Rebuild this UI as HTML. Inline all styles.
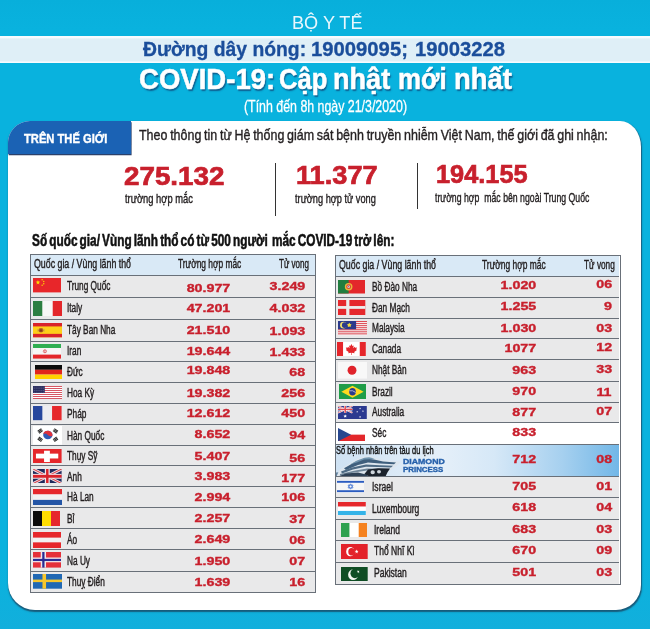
<!DOCTYPE html>
<html lang="vi"><head><meta charset="utf-8"><title>COVID-19: Cập nhật mới nhất</title>
<style>
html,body{margin:0;padding:0;}
body{width:650px;height:629px;overflow:hidden;background:#09b2de;font-family:"Liberation Sans", sans-serif;position:relative;}
.t{position:absolute;white-space:nowrap;line-height:1;transform-origin:0 0;font-family:"Liberation Sans", sans-serif;}
.r{transform-origin:100% 0;}
.b{font-weight:bold;}
.a{position:absolute;}
svg{position:absolute;display:block;overflow:hidden;}
</style></head><body>
<div class="a" style="left:0;top:0;width:650px;height:629px;background:linear-gradient(180deg,#08afdb 0,#09b2de 30px,#09b2de 560px,#12afdc 629px);"></div>
<div class="a" style="left:0;top:35.6px;width:650px;height:27.8px;background:linear-gradient(180deg,#f7fbfe 0,#f7fbfe 1.6px,#dfeff7 3px,#dfeff7 24.6px,#f7fbfe 26.2px,#f7fbfe 27.8px);"></div>
<div class="a" style="left:8.2px;top:121.3px;width:632.6px;height:488.3px;background:#fff;border-radius:22px 21px 25px 27px / 22px 26px 25px 27px;box-shadow:0.8px 1.6px 1.3px rgba(25,75,105,.85);"></div>
<div class="a" style="left:8.2px;top:121.3px;width:122.4px;height:32.6px;background:#1b62b4;border-radius:22px 0 0 0;box-shadow:0.6px 1.2px 0.6px rgba(6,30,80,.85);"></div>
<div class="a" style="left:274.7px;top:163px;width:1.2px;height:52.6px;background:#333;"></div>
<div class="a" style="left:416.8px;top:163px;width:1.2px;height:46.4px;background:#333;"></div>
<div class="a" style="left:30.3px;top:254.5px;width:284.4px;height:337.1px;background:#e9e9ea;"></div>
<div class="a" style="left:30.3px;top:254.5px;width:284.4px;height:20.9px;background:#d9e9f6;"></div>
<div class="a" style="left:30.3px;top:274.9px;width:284.4px;height:1.1px;background:#697079;"></div>
<div class="a" style="left:30.3px;top:296.6px;width:284.4px;height:1.1px;background:#697079;"></div>
<div class="a" style="left:30.3px;top:318.9px;width:284.4px;height:1.1px;background:#697079;"></div>
<div class="a" style="left:30.3px;top:340.6px;width:284.4px;height:1.1px;background:#697079;"></div>
<div class="a" style="left:30.3px;top:361.3px;width:284.4px;height:1.1px;background:#697079;"></div>
<div class="a" style="left:30.3px;top:381.8px;width:284.4px;height:1.1px;background:#697079;"></div>
<div class="a" style="left:30.3px;top:403.0px;width:284.4px;height:1.1px;background:#697079;"></div>
<div class="a" style="left:30.3px;top:424.0px;width:284.4px;height:1.1px;background:#697079;"></div>
<div class="a" style="left:30.3px;top:445.0px;width:284.4px;height:1.1px;background:#697079;"></div>
<div class="a" style="left:30.3px;top:465.3px;width:284.4px;height:1.1px;background:#697079;"></div>
<div class="a" style="left:30.3px;top:485.9px;width:284.4px;height:1.1px;background:#697079;"></div>
<div class="a" style="left:30.3px;top:506.8px;width:284.4px;height:1.1px;background:#697079;"></div>
<div class="a" style="left:30.3px;top:528.3px;width:284.4px;height:1.1px;background:#697079;"></div>
<div class="a" style="left:30.3px;top:549.1px;width:284.4px;height:1.1px;background:#697079;"></div>
<div class="a" style="left:30.3px;top:570.8px;width:284.4px;height:1.1px;background:#697079;"></div>
<div class="a" style="left:29.7px;top:253.9px;width:284.4px;height:337.1px;border:1.2px solid #697079;"></div>
<div class="a" style="left:335.5px;top:255.1px;width:283.7px;height:328.7px;background:#e9e9ea;"></div>
<div class="a" style="left:335.5px;top:255.1px;width:283.7px;height:21.0px;background:#d9e9f6;"></div>
<div class="a" style="left:335.5px;top:422.6px;width:283.7px;height:21.4px;background:#fff;"></div>
<div class="a" style="left:335.5px;top:444.0px;width:283.7px;height:32.9px;background:linear-gradient(90deg,#cfe2f3 0,#e4eff9 38%,#d6e8f7 56%,#a6d0ef 80%,#72b7e7 100%);"></div>
<svg style="left:336px;top:455px;" width="69" height="22" viewBox="0 0 69 22"><defs><linearGradient id="sea" x1="0" y1="0" x2="1" y2="0"><stop offset="0" stop-color="#5f7f9c"/><stop offset="1" stop-color="#9db9d3"/></linearGradient></defs><path d="M0 17.5L20 16l30 2.5V22H0z" fill="url(#sea)"/><path d="M0.6 21.2L3.4 14.7 12.6 9.2 20 4.5 27.4 1.8 32.9 0.8 39.4 2.7 47.7 5.1 65.2 6.4 60.6 11 51.4 17.5 49.5 21.4 20 21.6z" fill="#dde6ee"/><path d="M8 13.2L20 6.6 29 3.6 38 4.4 47 6.6 60 7.6 58 9.2 44 8.6 32 7.6 22 10 10 15z" fill="#3f5f7d"/><path d="M14 9.6L21 5.4 28.5 2.8 33 2.2 38.6 3.6 34 4.2 28 4.6 21.5 7.2z" fill="#6f93ad"/><path d="M5 16.6L16 12.6 30 9.6 44 10.2 57 10.8 55 12.4 42 12 30 11.8 17 14.6 6 18.4z" fill="#4d6a84"/><path d="M4 19L18 15.8 31 13.6 44 13.8 53.6 14 52 15.6 42 15.4 31 15.4 18 17.6 4 20.6z" fill="#6f8598"/><path d="M32 14.6L42 13.2 54 13.6 51.4 17.5 49.5 21.4 34 21.6 28 19.4z" fill="#1b222c"/><path d="M2 21.6L10 18.6 22 17.4 30 19.6 34 21.8z" fill="#2e4156"/><path d="M34.5 17.2a2.2 2 0 1 0 4.4 0a2.2 2 0 1 0-4.4 0zM41 16.8a2 1.8 0 1 0 4 0a2 1.8 0 1 0-4 0z" fill="#cfd6dd"/></svg>
<div class="a" style="left:335.5px;top:275.6px;width:283.7px;height:1.1px;background:#697079;"></div>
<div class="a" style="left:335.5px;top:297.2px;width:283.7px;height:1.1px;background:#697079;"></div>
<div class="a" style="left:335.5px;top:318.1px;width:283.7px;height:1.1px;background:#697079;"></div>
<div class="a" style="left:335.5px;top:337.6px;width:283.7px;height:1.1px;background:#697079;"></div>
<div class="a" style="left:335.5px;top:359.0px;width:283.7px;height:1.1px;background:#697079;"></div>
<div class="a" style="left:335.5px;top:380.6px;width:283.7px;height:1.1px;background:#697079;"></div>
<div class="a" style="left:335.5px;top:401.8px;width:283.7px;height:1.1px;background:#697079;"></div>
<div class="a" style="left:335.5px;top:422.1px;width:283.7px;height:1.1px;background:#697079;"></div>
<div class="a" style="left:335.5px;top:443.5px;width:283.7px;height:1.1px;background:#697079;"></div>
<div class="a" style="left:335.5px;top:476.4px;width:283.7px;height:1.1px;background:#697079;"></div>
<div class="a" style="left:335.5px;top:497.3px;width:283.7px;height:1.1px;background:#697079;"></div>
<div class="a" style="left:335.5px;top:518.7px;width:283.7px;height:1.1px;background:#697079;"></div>
<div class="a" style="left:335.5px;top:540.3px;width:283.7px;height:1.1px;background:#697079;"></div>
<div class="a" style="left:335.5px;top:561.6px;width:283.7px;height:1.1px;background:#697079;"></div>
<div class="a" style="left:334.9px;top:254.5px;width:283.7px;height:328.7px;border:1.2px solid #697079;"></div>
<svg style="left:32.9px;top:278.2px;" width="28.6" height="14.4" viewBox="0 0 30 15" preserveAspectRatio="none"><rect width="30" height="15" fill="#e8262a"/><polygon points="5.20,2.00 5.81,3.76 7.67,3.80 6.19,4.92 6.73,6.70 5.20,5.64 3.67,6.70 4.21,4.92 2.73,3.80 4.59,3.76" fill="#ffde00"/><circle cx="9.6" cy="1.8" r="0.7" fill="#ffde00"/><circle cx="11.3" cy="3.6" r="0.7" fill="#ffde00"/><circle cx="11.3" cy="6.0" r="0.7" fill="#ffde00"/><circle cx="9.6" cy="7.6" r="0.7" fill="#ffde00"/></svg>
<svg style="left:32.9px;top:300.9px;" width="29" height="15" viewBox="0 0 30 15" preserveAspectRatio="none"><rect width="30" height="15" fill="#f7f7f7"/><rect width="9.6" height="15" fill="#2c7f42"/><rect x="20.4" width="9.6" height="15" fill="#e3272b"/></svg>
<svg style="left:32.9px;top:323.3px;" width="29.2" height="14.3" viewBox="0 0 30 15" preserveAspectRatio="none"><rect width="30" height="15" fill="#fdcf1a"/><rect width="30" height="3.6" fill="#d9232b"/><rect y="11.4" width="30" height="3.6" fill="#d9232b"/><ellipse cx="8.2" cy="7.6" rx="2.6" ry="2.3" fill="#b5651d"/><ellipse cx="8.2" cy="7.8" rx="1.3" ry="1.3" fill="#8a3b1a"/><rect x="4.6" y="6.2" width="0.9" height="3" fill="#c9a24a"/><rect x="10.9" y="6.2" width="0.9" height="3" fill="#c9a24a"/></svg>
<svg style="left:32.9px;top:344.1px;" width="28.6" height="14.6" viewBox="0 0 30 15" preserveAspectRatio="none"><rect width="30" height="15" fill="#f6f6f6"/><rect width="30" height="4.1" fill="#2fae52"/><rect y="10.9" width="30" height="4.1" fill="#e3272b"/><path d="M10.8 7.5a1.7 1.5 0 1 0 3.4 0a1.7 1.5 0 1 0-3.4 0z" fill="none" stroke="#e0575a" stroke-width="0.8"/><rect x="12.1" y="5.8" width="0.8" height="3.4" fill="#e0575a"/></svg>
<svg style="left:34.5px;top:364.6px;" width="27.4" height="14.4" viewBox="0 0 30 15" preserveAspectRatio="none"><rect width="30" height="5" fill="#0b0b0b"/><rect y="5" width="30" height="5" fill="#e1261c"/><rect y="10" width="30" height="5" fill="#ffd200"/></svg>
<svg style="left:32.9px;top:386.1px;" width="29" height="13" viewBox="0 0 30 15" preserveAspectRatio="none"><rect width="30" height="15" fill="#fff"/><rect y="0.00" width="30" height="1.15" fill="#d65763"/><rect y="2.31" width="30" height="1.15" fill="#d65763"/><rect y="4.62" width="30" height="1.15" fill="#d65763"/><rect y="6.92" width="30" height="1.15" fill="#d65763"/><rect y="9.23" width="30" height="1.15" fill="#d65763"/><rect y="11.54" width="30" height="1.15" fill="#d65763"/><rect y="13.85" width="30" height="1.15" fill="#d65763"/><rect width="12.2" height="8.1" fill="#2a2d5e"/><circle cx="1.2" cy="1.1" r="0.35" fill="#b9bddb"/><circle cx="3.2" cy="1.1" r="0.35" fill="#b9bddb"/><circle cx="5.2" cy="1.1" r="0.35" fill="#b9bddb"/><circle cx="7.2" cy="1.1" r="0.35" fill="#b9bddb"/><circle cx="9.2" cy="1.1" r="0.35" fill="#b9bddb"/><circle cx="11.2" cy="1.1" r="0.35" fill="#b9bddb"/><circle cx="1.2" cy="3.1" r="0.35" fill="#b9bddb"/><circle cx="3.2" cy="3.1" r="0.35" fill="#b9bddb"/><circle cx="5.2" cy="3.1" r="0.35" fill="#b9bddb"/><circle cx="7.2" cy="3.1" r="0.35" fill="#b9bddb"/><circle cx="9.2" cy="3.1" r="0.35" fill="#b9bddb"/><circle cx="11.2" cy="3.1" r="0.35" fill="#b9bddb"/><circle cx="1.2" cy="5.1" r="0.35" fill="#b9bddb"/><circle cx="3.2" cy="5.1" r="0.35" fill="#b9bddb"/><circle cx="5.2" cy="5.1" r="0.35" fill="#b9bddb"/><circle cx="7.2" cy="5.1" r="0.35" fill="#b9bddb"/><circle cx="9.2" cy="5.1" r="0.35" fill="#b9bddb"/><circle cx="11.2" cy="5.1" r="0.35" fill="#b9bddb"/><circle cx="1.2" cy="7.1" r="0.35" fill="#b9bddb"/><circle cx="3.2" cy="7.1" r="0.35" fill="#b9bddb"/><circle cx="5.2" cy="7.1" r="0.35" fill="#b9bddb"/><circle cx="7.2" cy="7.1" r="0.35" fill="#b9bddb"/><circle cx="9.2" cy="7.1" r="0.35" fill="#b9bddb"/><circle cx="11.2" cy="7.1" r="0.35" fill="#b9bddb"/></svg>
<svg style="left:33px;top:406.4px;" width="28.6" height="14.2" viewBox="0 0 30 15" preserveAspectRatio="none"><rect width="30" height="15" fill="#ededf0"/><rect width="9.8" height="15" fill="#27479d"/><rect x="20" width="10" height="15" fill="#e6282c"/></svg>
<svg style="left:32.5px;top:425.9px;" width="29.1" height="18.7" viewBox="0 0 30 19" preserveAspectRatio="none"><rect width="30" height="19" fill="#fff"/><g transform="translate(15.3 9.1)"><ellipse rx="4.8" ry="4.3" fill="#2f5bb7"/><path d="M-4.8 0a4.8 4.3 0 0 1 9.6 0q-2.3 1.7-4.8 0t-4.8 0z" fill="#e0313b" transform="rotate(12)"/><g transform="translate(-7.9 -4.1) rotate(-35)"><rect x="-2.3" y="-1.7" width="4.6" height="1.0" fill="#2a2a2a"/><rect x="-2.3" y="-0.45" width="4.6" height="1.0" fill="#2a2a2a"/><rect x="-2.3" y="0.8" width="4.6" height="1.0" fill="#2a2a2a"/></g><g transform="translate(7.9 -4.1) rotate(35)"><rect x="-2.3" y="-1.7" width="4.6" height="1.0" fill="#2a2a2a"/><rect x="-2.3" y="-0.45" width="4.6" height="1.0" fill="#2a2a2a"/><rect x="-2.3" y="0.8" width="4.6" height="1.0" fill="#2a2a2a"/></g><g transform="translate(-7.9 4.4) rotate(35)"><rect x="-2.3" y="-1.7" width="4.6" height="1.0" fill="#2a2a2a"/><rect x="-2.3" y="-0.45" width="4.6" height="1.0" fill="#2a2a2a"/><rect x="-2.3" y="0.8" width="4.6" height="1.0" fill="#2a2a2a"/></g><g transform="translate(7.9 4.4) rotate(-35)"><rect x="-2.3" y="-1.7" width="4.6" height="1.0" fill="#2a2a2a"/><rect x="-2.3" y="-0.45" width="4.6" height="1.0" fill="#2a2a2a"/><rect x="-2.3" y="0.8" width="4.6" height="1.0" fill="#2a2a2a"/></g></g></svg>
<svg style="left:33px;top:448.9px;" width="28.6" height="14.5" viewBox="0 0 30 15" preserveAspectRatio="none"><rect width="30" height="15" fill="#e5262b"/><rect x="11.6" y="1.8" width="6.1" height="11.7" fill="#fff"/><rect x="3.1" y="4.8" width="23.4" height="5" fill="#fff"/></svg>
<svg style="left:33px;top:468.9px;" width="28.6" height="14.6" viewBox="0 0 30 15" preserveAspectRatio="none"><rect width="30" height="15" fill="#1f2a5c"/><path d="M0 0L30 15M30 0L0 15" stroke="#f0e4e8" stroke-width="3"/><path d="M0 0L30 15M30 0L0 15" stroke="#d8434e" stroke-width="1.1"/><path d="M15 0V15" stroke="#f3e9ec" stroke-width="5.2"/><path d="M0 7.5H30" stroke="#f3e9ec" stroke-width="5"/><path d="M15 0V15" stroke="#d8232b" stroke-width="2.6"/><path d="M0 7.5H30" stroke="#d8232b" stroke-width="3"/></svg>
<svg style="left:32.9px;top:488.6px;" width="29" height="16" viewBox="0 0 30 15" preserveAspectRatio="none"><rect width="30" height="15" fill="#f2f2f2"/><rect width="30" height="4.9" fill="#e6282c"/><rect y="10.2" width="30" height="4.8" fill="#2355a6"/></svg>
<svg style="left:33.3px;top:511px;" width="27" height="15" viewBox="0 0 30 15" preserveAspectRatio="none"><rect width="10" height="15" fill="#0b0b0b"/><rect x="10" width="10" height="15" fill="#ffdd00"/><rect x="20" width="10" height="15" fill="#e6282c"/></svg>
<svg style="left:32.9px;top:531.8px;" width="28.6" height="16.2" viewBox="0 0 30 15" preserveAspectRatio="none"><rect width="30" height="15" fill="#f2f2f2"/><rect width="30" height="5.2" fill="#e6282c"/><rect y="9.6" width="30" height="5.4" fill="#e6282c"/></svg>
<svg style="left:32.9px;top:552px;" width="28.3" height="15.6" viewBox="0 0 30 15" preserveAspectRatio="none"><rect width="30" height="15" fill="#e5303a"/><rect x="8.2" width="5.6" height="15" fill="#f4e6ea"/><rect y="5.3" width="30" height="4.6" fill="#f4e6ea"/><rect x="9.8" width="2.4" height="15" fill="#2a2c94"/><rect y="6.6" width="30" height="2.1" fill="#2a2c94"/></svg>
<svg style="left:32.8px;top:574.2px;" width="29" height="14.7" viewBox="0 0 30 15" preserveAspectRatio="none"><rect width="30" height="15" fill="#2068b4"/><rect x="9.8" width="3.7" height="15" fill="#f6c62d"/><rect y="5.7" width="30" height="2.6" fill="#f6c62d"/></svg>
<svg style="left:337.9px;top:280.2px;" width="27.1" height="13.5" viewBox="0 0 30 15" preserveAspectRatio="none"><rect width="30" height="15" fill="#e3272b"/><rect width="11.8" height="15" fill="#217d3f"/><circle cx="11.8" cy="7.4" r="4.2" fill="#e9b83a"/><circle cx="11.8" cy="7.4" r="2.7" fill="#d8433a"/><circle cx="11.8" cy="7.4" r="1.4" fill="#f3e9d8"/><circle cx="11.8" cy="7.4" r="0.6" fill="#3b56a8"/></svg>
<svg style="left:338.3px;top:300px;" width="27.3" height="15.1" viewBox="0 0 30 15" preserveAspectRatio="none"><rect width="30" height="15" fill="#e5282d"/><rect x="9" width="3.5" height="15" fill="#ececec"/><rect y="6" width="30" height="2.8" fill="#ececec"/></svg>
<svg style="left:337.9px;top:321.3px;" width="29.2" height="14.4" viewBox="0 0 30 15" preserveAspectRatio="none"><rect width="30" height="15" fill="#f7f1f1"/><rect y="0.00" width="30" height="1.07" fill="#dd4b55"/><rect y="2.14" width="30" height="1.07" fill="#dd4b55"/><rect y="4.29" width="30" height="1.07" fill="#dd4b55"/><rect y="6.43" width="30" height="1.07" fill="#dd4b55"/><rect y="8.57" width="30" height="1.07" fill="#dd4b55"/><rect y="10.71" width="30" height="1.07" fill="#dd4b55"/><rect y="12.86" width="30" height="1.07" fill="#dd4b55"/><rect width="18.6" height="8.6" fill="#2b3a8c"/><circle cx="5.6" cy="4.3" r="3.4" fill="#f4e06a"/><circle cx="6.9" cy="4.3" r="2.9" fill="#2b3a8c"/><polygon points="11.60,1.80 12.48,3.09 13.98,3.53 13.03,4.76 13.07,6.32 11.60,5.80 10.13,6.32 10.17,4.76 9.22,3.53 10.72,3.09" fill="#f2dc3c"/></svg>
<svg style="left:337.4px;top:342px;" width="28.8" height="14" viewBox="0 0 30 15" preserveAspectRatio="none"><rect width="30" height="15" fill="#fff"/><rect width="6.3" height="15" fill="#e5262b"/><rect x="23.7" width="6.3" height="15" fill="#e5262b"/><path d="M15 2.2l1.1 2.1 1.3-.6-.5 3 1.6-1.5.4 1 1.9-.4-.8 2.2.8.5-2.9 2.3.4 1.2-3-.5v2.3h-.6v-2.3l-3 .5.4-1.2-2.9-2.3.8-.5-.8-2.2 1.9.4.4-1 1.6 1.5-.5-3 1.3.6z" fill="#e5262b"/></svg>
<svg style="left:337.9px;top:362px;" width="29" height="16.6" viewBox="0 0 30 17" preserveAspectRatio="none"><rect width="30" height="17" fill="#f8f8f8"/><circle cx="14.5" cy="8.5" r="4.6" fill="#e0232b"/></svg>
<svg style="left:339.2px;top:383.6px;" width="27" height="15.5" viewBox="0 0 30 15" preserveAspectRatio="none"><rect width="30" height="15" fill="#1f9d48"/><polygon points="15,1.6 27.4,7.5 15,13.4 2.6,7.5" fill="#ffd91f"/><circle cx="15" cy="7.5" r="3.7" fill="#2b3a8c"/><path d="M11.6 6.6q3.6-.9 6.9 1.6" stroke="#e8e8f4" stroke-width=".7" fill="none"/></svg>
<svg style="left:338.3px;top:406px;" width="28.8" height="13.4" viewBox="0 0 30 15" preserveAspectRatio="none"><rect width="30" height="15" fill="#2b3990"/><g><path d="M0 0L15 7.5M15 0L0 7.5" stroke="#fff" stroke-width="1.8"/><path d="M0 0L15 7.5M15 0L0 7.5" stroke="#e0464f" stroke-width=".7"/><path d="M7.5 0V7.5M0 3.75H15" stroke="#fff" stroke-width="2.6"/><path d="M7.5 0V7.5M0 3.75H15" stroke="#e0464f" stroke-width="1.5"/></g><polygon points="7.50,9.50 8.06,10.63 9.31,10.81 8.40,11.69 8.62,12.94 7.50,12.35 6.38,12.94 6.60,11.69 5.69,10.81 6.94,10.63" fill="#fff"/><polygon points="23.00,1.80 23.29,2.40 23.95,2.49 23.48,2.95 23.59,3.61 23.00,3.30 22.41,3.61 22.52,2.95 22.05,2.49 22.71,2.40" fill="#fff"/><polygon points="20.00,5.60 20.29,6.20 20.95,6.29 20.48,6.75 20.59,7.41 20.00,7.10 19.41,7.41 19.52,6.75 19.05,6.29 19.71,6.20" fill="#fff"/><polygon points="26.00,4.80 26.29,5.40 26.95,5.49 26.48,5.95 26.59,6.61 26.00,6.30 25.41,6.61 25.52,5.95 25.05,5.49 25.71,5.40" fill="#fff"/><polygon points="23.00,11.10 23.32,11.76 24.05,11.86 23.52,12.37 23.65,13.09 23.00,12.75 22.35,13.09 22.48,12.37 21.95,11.86 22.68,11.76" fill="#fff"/></svg>
<svg style="left:337.9px;top:427.7px;" width="27.1" height="13.3" viewBox="0 0 30 15" preserveAspectRatio="none"><rect width="30" height="7.5" fill="#fff"/><rect y="7.5" width="30" height="7.5" fill="#e3272b"/><polygon points="0,0 14.5,7.5 0,15" fill="#27478f"/></svg>
<svg style="left:337.4px;top:480px;" width="27.1" height="13" viewBox="0 0 30 15" preserveAspectRatio="none"><rect width="30" height="15" fill="#f6f6f6"/><rect y="1" width="30" height="2.2" fill="#2b5cc0"/><rect y="11.8" width="30" height="2.2" fill="#2b5cc0"/><polygon points="15,4.4 17.8,9.1 12.2,9.1" fill="none" stroke="#3b6fd0" stroke-width=".8"/><polygon points="15,10.6 17.8,5.9 12.2,5.9" fill="none" stroke="#3b6fd0" stroke-width=".8"/></svg>
<svg style="left:338.4px;top:501.8px;" width="27.8" height="13.4" viewBox="0 0 30 15" preserveAspectRatio="none"><rect width="30" height="15" fill="#fff"/><rect width="30" height="5" fill="#e6282c"/><rect y="10" width="30" height="5" fill="#34b3e8"/></svg>
<svg style="left:341.2px;top:522.7px;" width="26.3" height="14.6" viewBox="0 0 30 15" preserveAspectRatio="none"><rect width="30" height="15" fill="#fff"/><rect width="9.6" height="15" fill="#2da14f"/><rect x="20.2" width="9.8" height="15" fill="#f58220"/></svg>
<svg style="left:341.2px;top:543.7px;" width="26.7" height="15.3" viewBox="0 0 30 15" preserveAspectRatio="none"><rect width="30" height="15" fill="#e3222a"/><circle cx="10.4" cy="7.5" r="4.6" fill="#fff"/><circle cx="11.9" cy="7.5" r="3.7" fill="#e3222a"/><polygon points="19.60,6.85 18.50,7.79 18.83,9.20 17.60,8.45 16.37,9.20 16.70,7.79 15.60,6.85 17.04,6.74 17.60,5.40 18.16,6.74" fill="#fff"/></svg>
<svg style="left:341.2px;top:566.8px;" width="26.7" height="14.4" viewBox="0 0 30 15" preserveAspectRatio="none"><rect width="30" height="15" fill="#0f4d24"/><circle cx="13.6" cy="8" r="5.6" fill="#f3f6f1"/><circle cx="15.6" cy="6.6" r="5.0" fill="#0f4d24"/><polygon points="20.49,3.60 20.14,4.71 20.98,5.54 19.81,5.55 19.28,6.60 18.91,5.49 17.75,5.31 18.69,4.61 18.50,3.46 19.45,4.14" fill="#f3f6f1"/></svg>
<div class="a" style="left:0;top:0;width:650px;height:629px;will-change:transform;">
<div class="t" style="left:291.8px;top:13.96px;font-size:18px;color:#e9f7fd;transform:scaleX(1.0065);">BỘ Y TẾ</div>
<div class="t b" style="left:142.7px;top:39.81px;font-size:19.6px;color:#1b4e9b;transform:scaleX(0.9869);-webkit-text-stroke:0.3px #1b4e9b;">Đường dây nóng:</div>
<div class="t b" style="left:311.4px;top:39.81px;font-size:19.6px;color:#1b4e9b;transform:scaleX(1.0341);-webkit-text-stroke:0.3px #1b4e9b;">19009095;</div>
<div class="t b" style="left:414.6px;top:39.81px;font-size:19.6px;color:#1b4e9b;transform:scaleX(1.0334);-webkit-text-stroke:0.3px #1b4e9b;">19003228</div>
<div class="t b" style="left:138.6px;top:65.39px;font-size:28.6px;color:#ffffff;transform:scaleX(0.9632);text-shadow:1.2px 1.8px 1.5px rgba(16,70,120,.8);-webkit-text-stroke:0.55px #ffffff;">COVID-19:</div>
<div class="t b" style="left:278.8px;top:65.39px;font-size:28.6px;color:#ffffff;transform:scaleX(0.8958);text-shadow:1.2px 1.8px 1.5px rgba(16,70,120,.8);-webkit-text-stroke:0.55px #ffffff;">Cập</div>
<div class="t b" style="left:333.4px;top:65.39px;font-size:28.6px;color:#ffffff;transform:scaleX(0.9477);text-shadow:1.2px 1.8px 1.5px rgba(16,70,120,.8);-webkit-text-stroke:0.55px #ffffff;">nhật</div>
<div class="t b" style="left:398.0px;top:65.39px;font-size:28.6px;color:#ffffff;transform:scaleX(0.9050);text-shadow:1.2px 1.8px 1.5px rgba(16,70,120,.8);-webkit-text-stroke:0.55px #ffffff;">mới</div>
<div class="t b" style="left:453.7px;top:65.39px;font-size:28.6px;color:#ffffff;transform:scaleX(0.9593);text-shadow:1.2px 1.8px 1.5px rgba(16,70,120,.8);-webkit-text-stroke:0.55px #ffffff;">nhất</div>
<div class="t" style="left:243.6px;top:97.89px;font-size:16.2px;color:#ffffff;transform:scaleX(0.7642);-webkit-text-stroke:0.3px #ffffff;">(Tính đến 8h ngày 21/3/2020)</div>
<div class="t b" style="left:24.2px;top:133.34px;font-size:12px;color:#ffffff;transform:scaleX(0.9310);-webkit-text-stroke:0.35px #ffffff;">TRÊN THẾ GIỚI</div>
<div class="t" style="left:138.6px;top:128.24px;font-size:14.6px;color:#231f20;transform:scaleX(0.8546);word-spacing:-0.06em;-webkit-text-stroke:0.38px #231f20;">Theo thông tin từ Hệ thống giám sát bệnh truyền nhiễm Việt Nam, thế giới đã ghi nhận:</div>
<div class="t b" style="left:124.4px;top:163.96px;font-size:25.8px;color:#c8202d;transform:scaleX(1.0767);-webkit-text-stroke:0.7px #c8202d;">275.132</div>
<div class="t b" style="left:296.2px;top:162.96px;font-size:25.8px;color:#c8202d;transform:scaleX(1.0531);-webkit-text-stroke:0.7px #c8202d;">11.377</div>
<div class="t b" style="left:435.6px;top:162.36px;font-size:25.8px;color:#c8202d;transform:scaleX(0.9823);-webkit-text-stroke:0.7px #c8202d;">194.155</div>
<div class="t" style="left:124.7px;top:192.63px;font-size:12.6px;color:#231f20;transform:scaleX(0.7425);-webkit-text-stroke:0.4px #231f20;">trường hợp mắc</div>
<div class="t" style="left:294.8px;top:193.33px;font-size:12.6px;color:#231f20;transform:scaleX(0.7318);-webkit-text-stroke:0.4px #231f20;">trường hợp tử vong</div>
<div class="t" style="left:434.6px;top:191.93px;font-size:12.6px;color:#231f20;transform:scaleX(0.6921);white-space:pre;-webkit-text-stroke:0.4px #231f20;">trường hợp  mắc bên ngoài Trung Quốc</div>
<div class="t b" style="left:32.3px;top:232.86px;font-size:16px;color:#111111;transform:scaleX(0.7392);white-space:pre;word-spacing:-0.1em;-webkit-text-stroke:0.55px #111111;">Số quốc gia/ Vùng lãnh thổ có từ 500 người  mắc COVID-19 trở lên:</div>
<div class="t" style="left:33.9px;top:258.37px;font-size:12.2px;color:#231f20;transform:scaleX(0.7230);-webkit-text-stroke:0.42px #231f20;">Quốc gia / Vùng lãnh thổ</div>
<div class="t" style="left:177.8px;top:258.37px;font-size:12.2px;color:#231f20;transform:scaleX(0.6872);-webkit-text-stroke:0.42px #231f20;">Trường hợp mắc</div>
<div class="t" style="left:279.0px;top:258.37px;font-size:12.2px;color:#231f20;transform:scaleX(0.6605);-webkit-text-stroke:0.42px #231f20;">Tử vong</div>
<div class="t" style="left:338.9px;top:259.07px;font-size:12.2px;color:#231f20;transform:scaleX(0.7230);-webkit-text-stroke:0.42px #231f20;">Quốc gia / Vùng lãnh thổ</div>
<div class="t" style="left:482.2px;top:259.07px;font-size:12.2px;color:#231f20;transform:scaleX(0.6905);-webkit-text-stroke:0.42px #231f20;">Trường hợp mắc</div>
<div class="t" style="left:583.5px;top:259.07px;font-size:12.2px;color:#231f20;transform:scaleX(0.6781);-webkit-text-stroke:0.42px #231f20;">Tử vong</div>
<div class="t" style="left:67.0px;top:280.29px;font-size:12.0px;color:#231f20;transform:scaleX(0.6900);-webkit-text-stroke:0.42px #231f20;">Trung Quốc</div>
<div class="t b r" style="right:419.4px;top:283.22px;font-size:10.9px;color:#c8202d;transform:scaleX(1.3100);-webkit-text-stroke:0.35px #c8202d;">80.977</div>
<div class="t b r" style="right:345.0px;top:280.92px;font-size:10.9px;color:#c8202d;transform:scaleX(1.3100);-webkit-text-stroke:0.35px #c8202d;">3.249</div>
<div class="t" style="left:67.0px;top:302.29px;font-size:12.0px;color:#231f20;transform:scaleX(0.6900);-webkit-text-stroke:0.42px #231f20;">Italy</div>
<div class="t b r" style="right:419.4px;top:303.02px;font-size:10.9px;color:#c8202d;transform:scaleX(1.3100);-webkit-text-stroke:0.35px #c8202d;">47.201</div>
<div class="t b r" style="right:345.0px;top:303.02px;font-size:10.9px;color:#c8202d;transform:scaleX(1.3100);-webkit-text-stroke:0.35px #c8202d;">4.032</div>
<div class="t" style="left:67.0px;top:324.29px;font-size:12.0px;color:#231f20;transform:scaleX(0.6900);-webkit-text-stroke:0.42px #231f20;">Tây Ban Nha</div>
<div class="t b r" style="right:419.4px;top:324.62px;font-size:10.9px;color:#c8202d;transform:scaleX(1.3100);-webkit-text-stroke:0.35px #c8202d;">21.510</div>
<div class="t b r" style="right:345.0px;top:326.42px;font-size:10.9px;color:#c8202d;transform:scaleX(1.3100);-webkit-text-stroke:0.35px #c8202d;">1.093</div>
<div class="t" style="left:67.0px;top:345.49px;font-size:12.0px;color:#231f20;transform:scaleX(0.6900);-webkit-text-stroke:0.42px #231f20;">Iran</div>
<div class="t b r" style="right:419.4px;top:345.62px;font-size:10.9px;color:#c8202d;transform:scaleX(1.3100);-webkit-text-stroke:0.35px #c8202d;">19.644</div>
<div class="t b r" style="right:345.0px;top:346.52px;font-size:10.9px;color:#c8202d;transform:scaleX(1.3100);-webkit-text-stroke:0.35px #c8202d;">1.433</div>
<div class="t" style="left:67.0px;top:366.09px;font-size:12.0px;color:#231f20;transform:scaleX(0.6900);-webkit-text-stroke:0.42px #231f20;">Đức</div>
<div class="t b r" style="right:419.4px;top:365.02px;font-size:10.9px;color:#c8202d;transform:scaleX(1.3100);-webkit-text-stroke:0.35px #c8202d;">19.848</div>
<div class="t b r" style="right:345.0px;top:367.32px;font-size:10.9px;color:#c8202d;transform:scaleX(1.3100);-webkit-text-stroke:0.35px #c8202d;">68</div>
<div class="t" style="left:67.0px;top:386.94px;font-size:12.0px;color:#231f20;transform:scaleX(0.6900);-webkit-text-stroke:0.42px #231f20;">Hoa Kỳ</div>
<div class="t b r" style="right:419.4px;top:387.67px;font-size:10.9px;color:#c8202d;transform:scaleX(1.3100);-webkit-text-stroke:0.35px #c8202d;">19.382</div>
<div class="t b r" style="right:345.0px;top:387.67px;font-size:10.9px;color:#c8202d;transform:scaleX(1.3100);-webkit-text-stroke:0.35px #c8202d;">256</div>
<div class="t" style="left:67.0px;top:408.04px;font-size:12.0px;color:#231f20;transform:scaleX(0.6900);-webkit-text-stroke:0.42px #231f20;">Pháp</div>
<div class="t b r" style="right:419.4px;top:407.87px;font-size:10.9px;color:#c8202d;transform:scaleX(1.3100);-webkit-text-stroke:0.35px #c8202d;">12.612</div>
<div class="t b r" style="right:345.0px;top:407.87px;font-size:10.9px;color:#c8202d;transform:scaleX(1.3100);-webkit-text-stroke:0.35px #c8202d;">450</div>
<div class="t" style="left:67.0px;top:429.54px;font-size:12.0px;color:#231f20;transform:scaleX(0.6900);-webkit-text-stroke:0.42px #231f20;">Hàn Quốc</div>
<div class="t b r" style="right:419.4px;top:428.87px;font-size:10.9px;color:#c8202d;transform:scaleX(1.3100);-webkit-text-stroke:0.35px #c8202d;">8.652</div>
<div class="t b r" style="right:345.0px;top:430.47px;font-size:10.9px;color:#c8202d;transform:scaleX(1.3100);-webkit-text-stroke:0.35px #c8202d;">94</div>
<div class="t" style="left:67.0px;top:450.19px;font-size:12.0px;color:#231f20;transform:scaleX(0.6900);-webkit-text-stroke:0.42px #231f20;">Thụy Sỹ</div>
<div class="t b r" style="right:419.4px;top:451.02px;font-size:10.9px;color:#c8202d;transform:scaleX(1.3100);-webkit-text-stroke:0.35px #c8202d;">5.407</div>
<div class="t b r" style="right:345.0px;top:453.02px;font-size:10.9px;color:#c8202d;transform:scaleX(1.3100);-webkit-text-stroke:0.35px #c8202d;">56</div>
<div class="t" style="left:67.0px;top:470.64px;font-size:12.0px;color:#231f20;transform:scaleX(0.6900);-webkit-text-stroke:0.42px #231f20;">Anh</div>
<div class="t b r" style="right:419.4px;top:471.37px;font-size:10.9px;color:#c8202d;transform:scaleX(1.3100);-webkit-text-stroke:0.35px #c8202d;">3.983</div>
<div class="t b r" style="right:345.0px;top:472.77px;font-size:10.9px;color:#c8202d;transform:scaleX(1.3100);-webkit-text-stroke:0.35px #c8202d;">177</div>
<div class="t" style="left:67.0px;top:491.39px;font-size:12.0px;color:#231f20;transform:scaleX(0.6900);-webkit-text-stroke:0.42px #231f20;">Hà Lan</div>
<div class="t b r" style="right:419.4px;top:491.62px;font-size:10.9px;color:#c8202d;transform:scaleX(1.3100);-webkit-text-stroke:0.35px #c8202d;">2.994</div>
<div class="t b r" style="right:345.0px;top:491.92px;font-size:10.9px;color:#c8202d;transform:scaleX(1.3100);-webkit-text-stroke:0.35px #c8202d;">106</div>
<div class="t" style="left:67.0px;top:512.59px;font-size:12.0px;color:#231f20;transform:scaleX(0.6900);-webkit-text-stroke:0.42px #231f20;">Bỉ</div>
<div class="t b r" style="right:419.4px;top:512.82px;font-size:10.9px;color:#c8202d;transform:scaleX(1.3100);-webkit-text-stroke:0.35px #c8202d;">2.257</div>
<div class="t b r" style="right:345.0px;top:513.72px;font-size:10.9px;color:#c8202d;transform:scaleX(1.3100);-webkit-text-stroke:0.35px #c8202d;">37</div>
<div class="t" style="left:67.0px;top:533.74px;font-size:12.0px;color:#231f20;transform:scaleX(0.6900);-webkit-text-stroke:0.42px #231f20;">Áo</div>
<div class="t b r" style="right:419.4px;top:533.97px;font-size:10.9px;color:#c8202d;transform:scaleX(1.3100);-webkit-text-stroke:0.35px #c8202d;">2.649</div>
<div class="t b r" style="right:345.0px;top:534.57px;font-size:10.9px;color:#c8202d;transform:scaleX(1.3100);-webkit-text-stroke:0.35px #c8202d;">06</div>
<div class="t" style="left:67.0px;top:554.99px;font-size:12.0px;color:#231f20;transform:scaleX(0.6900);-webkit-text-stroke:0.42px #231f20;">Na Uy</div>
<div class="t b r" style="right:419.4px;top:555.52px;font-size:10.9px;color:#c8202d;transform:scaleX(1.3100);-webkit-text-stroke:0.35px #c8202d;">1.950</div>
<div class="t b r" style="right:345.0px;top:556.02px;font-size:10.9px;color:#c8202d;transform:scaleX(1.3100);-webkit-text-stroke:0.35px #c8202d;">07</div>
<div class="t" style="left:67.0px;top:575.99px;font-size:12.0px;color:#231f20;transform:scaleX(0.6900);-webkit-text-stroke:0.42px #231f20;">Thuỵ Điển</div>
<div class="t b r" style="right:419.4px;top:576.72px;font-size:10.9px;color:#c8202d;transform:scaleX(1.3100);-webkit-text-stroke:0.35px #c8202d;">1.639</div>
<div class="t b r" style="right:345.0px;top:576.72px;font-size:10.9px;color:#c8202d;transform:scaleX(1.3100);-webkit-text-stroke:0.35px #c8202d;">16</div>
<div class="t" style="left:372.0px;top:280.94px;font-size:12.0px;color:#231f20;transform:scaleX(0.6900);-webkit-text-stroke:0.42px #231f20;">Bồ Đào Nha</div>
<div class="t b r" style="right:114.0px;top:280.07px;font-size:10.9px;color:#c8202d;transform:scaleX(1.3100);-webkit-text-stroke:0.35px #c8202d;">1.020</div>
<div class="t b r" style="right:38.0px;top:278.67px;font-size:10.9px;color:#c8202d;transform:scaleX(1.3100);-webkit-text-stroke:0.35px #c8202d;">06</div>
<div class="t" style="left:372.0px;top:302.19px;font-size:12.0px;color:#231f20;transform:scaleX(0.6900);-webkit-text-stroke:0.42px #231f20;">Đan Mạch</div>
<div class="t b r" style="right:114.0px;top:301.02px;font-size:10.9px;color:#c8202d;transform:scaleX(1.3100);-webkit-text-stroke:0.35px #c8202d;">1.255</div>
<div class="t b r" style="right:38.0px;top:300.52px;font-size:10.9px;color:#c8202d;transform:scaleX(1.3100);-webkit-text-stroke:0.35px #c8202d;">9</div>
<div class="t" style="left:372.0px;top:322.39px;font-size:12.0px;color:#231f20;transform:scaleX(0.6900);-webkit-text-stroke:0.42px #231f20;">Malaysia</div>
<div class="t b r" style="right:114.0px;top:323.02px;font-size:10.9px;color:#c8202d;transform:scaleX(1.3100);-webkit-text-stroke:0.35px #c8202d;">1.030</div>
<div class="t b r" style="right:38.0px;top:322.72px;font-size:10.9px;color:#c8202d;transform:scaleX(1.3100);-webkit-text-stroke:0.35px #c8202d;">03</div>
<div class="t" style="left:372.0px;top:342.84px;font-size:12.0px;color:#231f20;transform:scaleX(0.6900);-webkit-text-stroke:0.42px #231f20;">Canada</div>
<div class="t b r" style="right:114.0px;top:343.17px;font-size:10.9px;color:#c8202d;transform:scaleX(1.3100);-webkit-text-stroke:0.35px #c8202d;">1077</div>
<div class="t b r" style="right:38.0px;top:342.27px;font-size:10.9px;color:#c8202d;transform:scaleX(1.3100);-webkit-text-stroke:0.35px #c8202d;">12</div>
<div class="t" style="left:372.0px;top:364.34px;font-size:12.0px;color:#231f20;transform:scaleX(0.6900);-webkit-text-stroke:0.42px #231f20;">Nhật Bản</div>
<div class="t b r" style="right:114.0px;top:364.97px;font-size:10.9px;color:#c8202d;transform:scaleX(1.3100);-webkit-text-stroke:0.35px #c8202d;">963</div>
<div class="t b r" style="right:38.0px;top:364.37px;font-size:10.9px;color:#c8202d;transform:scaleX(1.3100);-webkit-text-stroke:0.35px #c8202d;">33</div>
<div class="t" style="left:372.0px;top:385.74px;font-size:12.0px;color:#231f20;transform:scaleX(0.6900);-webkit-text-stroke:0.42px #231f20;">Brazil</div>
<div class="t b r" style="right:114.0px;top:386.37px;font-size:10.9px;color:#c8202d;transform:scaleX(1.3100);-webkit-text-stroke:0.35px #c8202d;">970</div>
<div class="t b r" style="right:38.0px;top:386.87px;font-size:10.9px;color:#c8202d;transform:scaleX(1.3100);-webkit-text-stroke:0.35px #c8202d;">11</div>
<div class="t" style="left:372.0px;top:406.49px;font-size:12.0px;color:#231f20;transform:scaleX(0.6900);-webkit-text-stroke:0.42px #231f20;">Australia</div>
<div class="t b r" style="right:114.0px;top:406.82px;font-size:10.9px;color:#c8202d;transform:scaleX(1.3100);-webkit-text-stroke:0.35px #c8202d;">877</div>
<div class="t b r" style="right:38.0px;top:406.22px;font-size:10.9px;color:#c8202d;transform:scaleX(1.3100);-webkit-text-stroke:0.35px #c8202d;">07</div>
<div class="t" style="left:372.0px;top:427.34px;font-size:12.0px;color:#231f20;transform:scaleX(0.6900);-webkit-text-stroke:0.42px #231f20;">Séc</div>
<div class="t b r" style="right:114.0px;top:427.07px;font-size:10.9px;color:#c8202d;transform:scaleX(1.3100);-webkit-text-stroke:0.35px #c8202d;">833</div>
<div class="t b r" style="right:114.0px;top:454.22px;font-size:10.9px;color:#c8202d;transform:scaleX(1.3100);-webkit-text-stroke:0.35px #c8202d;">712</div>
<div class="t b r" style="right:38.0px;top:454.22px;font-size:10.9px;color:#c8202d;transform:scaleX(1.3100);-webkit-text-stroke:0.35px #c8202d;">08</div>
<div class="t" style="left:372.0px;top:481.39px;font-size:12.0px;color:#231f20;transform:scaleX(0.7100);-webkit-text-stroke:0.42px #231f20;">Israel</div>
<div class="t b r" style="right:114.0px;top:481.12px;font-size:10.9px;color:#c8202d;transform:scaleX(1.3100);-webkit-text-stroke:0.35px #c8202d;">705</div>
<div class="t b r" style="right:38.0px;top:481.12px;font-size:10.9px;color:#c8202d;transform:scaleX(1.3100);-webkit-text-stroke:0.35px #c8202d;">01</div>
<div class="t" style="left:372.0px;top:502.54px;font-size:12.0px;color:#231f20;transform:scaleX(0.7100);-webkit-text-stroke:0.42px #231f20;">Luxembourg</div>
<div class="t b r" style="right:114.0px;top:502.27px;font-size:10.9px;color:#c8202d;transform:scaleX(1.3100);-webkit-text-stroke:0.35px #c8202d;">618</div>
<div class="t b r" style="right:38.0px;top:502.27px;font-size:10.9px;color:#c8202d;transform:scaleX(1.3100);-webkit-text-stroke:0.35px #c8202d;">04</div>
<div class="t" style="left:373.9px;top:524.04px;font-size:12.0px;color:#231f20;transform:scaleX(0.7100);-webkit-text-stroke:0.42px #231f20;">Ireland</div>
<div class="t b r" style="right:114.0px;top:523.77px;font-size:10.9px;color:#c8202d;transform:scaleX(1.3100);-webkit-text-stroke:0.35px #c8202d;">683</div>
<div class="t b r" style="right:38.0px;top:523.77px;font-size:10.9px;color:#c8202d;transform:scaleX(1.3100);-webkit-text-stroke:0.35px #c8202d;">03</div>
<div class="t" style="left:373.9px;top:545.49px;font-size:12.0px;color:#231f20;transform:scaleX(0.7100);-webkit-text-stroke:0.42px #231f20;">Thổ Nhĩ Kì</div>
<div class="t b r" style="right:114.0px;top:545.22px;font-size:10.9px;color:#c8202d;transform:scaleX(1.3100);-webkit-text-stroke:0.35px #c8202d;">670</div>
<div class="t b r" style="right:38.0px;top:545.22px;font-size:10.9px;color:#c8202d;transform:scaleX(1.3100);-webkit-text-stroke:0.35px #c8202d;">09</div>
<div class="t" style="left:373.9px;top:566.99px;font-size:12.0px;color:#231f20;transform:scaleX(0.7100);-webkit-text-stroke:0.42px #231f20;">Pakistan</div>
<div class="t b r" style="right:114.0px;top:566.72px;font-size:10.9px;color:#c8202d;transform:scaleX(1.3100);-webkit-text-stroke:0.35px #c8202d;">501</div>
<div class="t b r" style="right:38.0px;top:566.72px;font-size:10.9px;color:#c8202d;transform:scaleX(1.3100);-webkit-text-stroke:0.35px #c8202d;">03</div>
<div class="t" style="left:336.0px;top:444.51px;font-size:11.8px;color:#111111;transform:scaleX(0.6332);-webkit-text-stroke:0.42px #111111;">Số bệnh nhân trên tàu du lịch</div>
<div class="t b" style="left:403.2px;top:457.50px;font-size:7.8px;color:#2560ab;transform:scaleX(1.1221);-webkit-text-stroke:0.35px #2560ab;">DIAMOND</div>
<div class="t b" style="left:403.2px;top:466.20px;font-size:7.8px;color:#2560ab;transform:scaleX(1.0132);-webkit-text-stroke:0.35px #2560ab;">PRINCESS</div>
</div>
</body></html>
